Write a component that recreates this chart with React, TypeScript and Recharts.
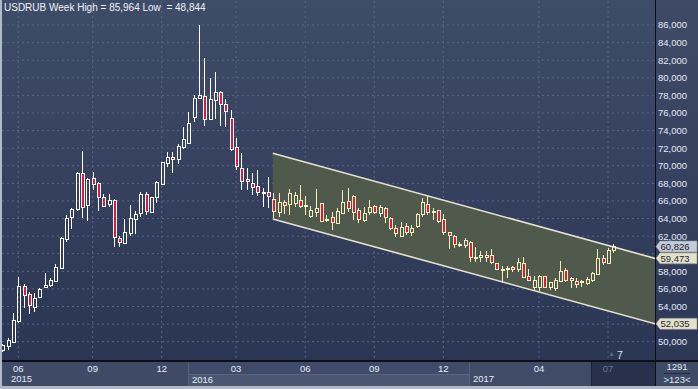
import { ComposedChart, Bar, Area, XAxis, YAxis, CartesianGrid, ReferenceLine } from 'recharts'

// weekly USDRUB candles, May 2015 .. Jul 2017
const OPEN = [
  49.0, 49.46, 50.02, 52.37, 56.35, 55.44, 54.0, 55.06, 56.27, 56.46,
  56.92, 58.43, 61.73, 64.15, 65.06, 69.15, 65.51, 68.58, 68.01, 66.5,
  65.63, 66.12, 61.76, 61.27, 62.41, 64.0, 64.6, 66.76, 64.79, 66.42,
  67.9, 70.36, 71.0, 70.74, 72.18, 72.63, 75.51, 77.74, 77.93, 75.36,
  77.48, 78.39, 76.99, 75.4, 72.1, 69.72, 68.47, 68.01, 67.71, 67.07,
  67.07, 66.27, 64.79, 65.85, 65.67, 65.74, 66.08, 65.48, 64.3, 64.79,
  65.74, 63.92, 64.15, 63.54, 64.6, 66.01, 66.57, 64.98, 63.85, 64.79,
  65.44, 64.6, 65.17, 64.04, 62.9, 62.07, 63.17, 62.52, 63.17, 64.53,
  65.63, 64.87, 64.98, 63.92, 62.45, 62.03, 61.12, 61.01, 61.39, 59.61,
  59.61, 59.87, 59.87, 58.92, 58.28, 58.4, 58.47, 58.24, 59.0, 57.49,
  56.27, 56.27, 57.49, 56.27, 56.08, 56.92, 58.17, 57.22, 56.88, 56.92,
  56.65, 56.96, 57.68, 59.49, 58.92, 60.44,
]
const HIGH = [
  49.7, 50.44, 53.28, 57.41, 56.57, 55.63, 55.52, 56.05, 57.79, 57.22,
  58.81, 61.95, 64.42, 65.17, 69.34, 71.69, 68.66, 69.34, 68.2, 66.8,
  66.8, 66.23, 62.03, 63.92, 65.55, 64.87, 67.03, 67.03, 66.5, 68.32,
  70.47, 71.57, 71.53, 72.48, 74.37, 76.08, 78.05, 85.964, 82.29, 79.94,
  80.7, 78.54, 77.55, 76.34, 73.12, 71.42, 69.72, 69.22, 69.53, 67.44,
  68.77, 66.88, 66.88, 66.12, 67.33, 67.0, 67.82, 66.57, 65.44, 67.33,
  65.82, 64.42, 64.79, 65.17, 67.26, 67.44, 66.69, 65.17, 65.36, 66.12,
  65.55, 65.55, 65.36, 64.15, 63.28, 63.66, 63.47, 63.28, 64.6, 66.31,
  66.57, 65.17, 65.0, 64.53, 62.52, 62.14, 61.39, 61.77, 61.45, 60.74,
  60.33, 60.36, 60.52, 58.95, 58.62, 58.62, 58.62, 59.49, 59.68, 58.24,
  57.49, 57.55, 57.52, 56.84, 57.22, 59.23, 58.36, 57.33, 57.22, 57.03,
  57.33, 57.98, 60.52, 59.87, 60.63, 61.12,
]
const LOW = [
  48.844, 49.0, 49.87, 52.11, 53.81, 53.13, 53.43, 55.02, 56.2, 56.27,
  56.77, 58.28, 61.39, 62.79, 64.91, 64.04, 63.77, 67.26, 64.91, 65.36,
  65.36, 60.82, 60.74, 61.2, 62.07, 62.26, 64.15, 64.42, 64.72, 65.82,
  67.82, 69.83, 69.22, 70.21, 71.87, 72.5, 75.02, 77.67, 74.53, 75.21,
  75.28, 74.53, 74.45, 71.72, 69.53, 67.25, 67.25, 66.69, 66.61, 65.36,
  65.17, 64.04, 64.23, 64.53, 64.42, 65.36, 65.17, 64.42, 64.04, 64.23,
  63.66, 63.66, 62.71, 63.47, 64.53, 64.79, 63.85, 63.54, 63.66, 64.42,
  64.53, 64.23, 63.47, 62.71, 61.95, 61.88, 62.14, 62.03, 62.9, 64.23,
  64.42, 63.85, 63.47, 62.14, 60.52, 60.63, 60.82, 60.63, 59.11, 59.11,
  59.11, 59.11, 58.85, 58.17, 56.65, 57.22, 57.98, 57.98, 57.33, 56.96,
  55.89, 55.82, 56.08, 55.89, 55.71, 56.84, 56.84, 56.08, 56.16, 56.27,
  56.46, 56.84, 57.6, 58.74, 58.85, 60.06,
]
const CLOSE = [
  49.65, 50.14, 52.49, 56.35, 55.33, 54.12, 54.95, 55.97, 56.46, 56.99,
  58.47, 61.76, 64.04, 65.06, 69.15, 65.29, 68.47, 67.9, 66.5, 65.48,
  66.08, 61.88, 61.31, 62.45, 64.04, 64.49, 66.76, 64.83, 66.42, 68.13,
  70.4, 70.97, 70.74, 72.25, 73.05, 74.83, 77.67, 78.01, 75.36, 77.59,
  78.39, 76.99, 76.27, 71.87, 70.02, 68.31, 68.24, 67.63, 67.07, 67.05,
  66.57, 64.87, 65.93, 65.55, 66.88, 66.69, 65.44, 65.5, 64.98, 65.17,
  63.77, 63.9, 63.66, 64.91, 65.93, 65.25, 64.79, 63.92, 64.68, 65.29,
  64.79, 65.36, 64.15, 62.9, 62.33, 63.01, 62.45, 62.9, 64.53, 65.93,
  64.79, 64.85, 63.77, 62.45, 62.14, 61.08, 61.14, 61.58, 59.68, 59.6,
  59.87, 59.61, 59.04, 58.28, 58.3, 58.43, 58.24, 59.11, 57.41, 57.03,
  57.03, 57.49, 56.27, 56.73, 57.03, 58.09, 57.03, 57.03, 56.54, 56.73,
  57.18, 57.86, 59.49, 59.04, 60.44, 60.826,
]

const MONTH_TICKS = [3, 17, 30, 44, 57, 70, 83, 101, 114]
const MONTH_LABELS = ['06', '09', '12', '03', '06', '09', '12', '04', '07']
const PRICE_TICKS = [50, 52, 54, 56, 58, 60, 62, 64, 66, 68, 70, 72, 74, 76, 78, 80, 82, 84, 86]

const X_DOMAIN = [-0.06, 122.84]
const Y_DOMAIN = [47.92, 88.73]

// regression channel drawn over the last part
const CHANNEL_X = [50.9, 122.84]
const CHANNEL_TOP = [71.425, 59.473]
const CHANNEL_BOT = [63.96, 52.035]
const CHANNEL_FROM = 51
const LAST_CLOSE = 60.826
const TAGS = [LAST_CLOSE, CHANNEL_TOP[1], CHANNEL_BOT[1]]

const candles = OPEN.map((o, i) => ({
  i,
  open: o,
  high: HIGH[i],
  low: LOW[i],
  close: CLOSE[i],
  range: [LOW[i], HIGH[i]],
}))

const channel = CHANNEL_X.map((x, k) => ({ i: x, band: [CHANNEL_BOT[k], CHANNEL_TOP[k]] }))

const fmt = (v: number) => v.toFixed(3).replace('.', ',')
const FONT = '"Liberation Sans", Arial, sans-serif'
const TXT = '#e4ebf7'

function Candle(props: any) {
  const { x, y, width, height, payload } = props
  if (x == null || !payload) return null
  const { open, close, high, low, i } = payload
  const span = high - low || 1
  const py = (v: number) => y + ((high - v) / span) * height
  const c = Math.round(x + width / 2)
  const color = i >= CHANNEL_FROM ? '#f5efbd' : '#ffffff'
  const yH = Math.round(py(high))
  const yL = Math.round(py(low))
  const yT = Math.round(py(Math.max(open, close)))
  let yB = Math.round(py(Math.min(open, close)))
  if (yB - yT < 1) yB = yT + 1
  const down = close < open
  return (
    <g>
      <line x1={c + 0.5} x2={c + 0.5} y1={yH} y2={yT} stroke={color} />
      <line x1={c + 0.5} x2={c + 0.5} y1={yB} y2={yL} stroke={color} />
      <rect
        x={c - 0.5}
        y={yT + 0.5}
        width={3}
        height={yB - yT}
        fill={down ? '#e0193a' : 'none'}
        stroke={color}
      />
    </g>
  )
}

function MonthTick({ x, y, payload }: any) {
  const k = MONTH_TICKS.indexOf(payload.value)
  return (
    <text x={x} y={y + 12} textAnchor="middle" fontSize={9.5} fontFamily={FONT}
      fill={k === MONTH_TICKS.length - 1 ? '#69748f' : TXT}>
      {MONTH_LABELS[k]}
    </text>
  )
}

// price labels hidden under the value tags
function PriceTick({ x, y, payload }: any) {
  if (TAGS.some((t) => Math.abs(t - payload.value) < 0.9)) return null
  return (
    <text x={x} y={y + 3.4} textAnchor="start" fontSize={9.5} fontFamily={FONT} fill={TXT}>
      {fmt(payload.value)}
    </text>
  )
}

function PriceTag({ viewBox, v, bg }: any) {
  if (!viewBox) return null
  const x0 = viewBox.x + viewBox.width + 1
  const yc = viewBox.y
  return (
    <g>
      <polygon
        points={`${x0},${yc} ${x0 + 4},${yc - 5.5} ${x0 + 41},${yc - 5.5} ${x0 + 41},${yc + 5.5} ${x0 + 4},${yc + 5.5}`}
        fill={bg}
        stroke="#8a90a0"
        strokeWidth={0.6}
      />
      <text x={x0 + 4.5} y={yc + 3.4} fontSize={9.5} fontFamily={FONT} fill="#1b2233">
        {fmt(v)}
      </text>
    </g>
  )
}

// grid only on the axis ticks, nothing on the plot edges
const vGrid = ({ offset }: any) =>
  MONTH_TICKS.map((t) => offset.left + ((t - X_DOMAIN[0]) / (X_DOMAIN[1] - X_DOMAIN[0])) * offset.width)
const hGrid = ({ offset }: any) =>
  PRICE_TICKS.map((t) => offset.top + ((Y_DOMAIN[1] - t) / (Y_DOMAIN[1] - Y_DOMAIN[0])) * offset.height)

const abs = (left: number, top: number, width: number, height: number, extra: any = {}) => ({
  position: 'absolute' as const, left, top, width, height, ...extra,
})

export default function App() {
  return (
    <div style={abs(0, 0, 698, 389, { background: '#3e4a66', overflow: 'hidden', fontFamily: FONT })}>
      {/* plot + axis backgrounds */}
      <div style={abs(2, 0, 653, 360, { background: 'linear-gradient(#3f4c68, #2b3554)' })} />
      <div style={abs(656, 0, 42, 360, { background: 'linear-gradient(#3e4a66, #2d3857)' })} />
      {/* bottom time panel */}
      <div style={abs(2, 362, 186, 24, { background: '#3e4a66' })} />
      <div style={abs(188, 362, 281, 24, { background: '#3f4b68', borderLeft: '1px solid #56617c', boxSizing: 'border-box' })} />
      <div style={abs(189, 374, 280, 12, { background: '#4b5673', borderTop: '1px solid #5a6580', boxSizing: 'border-box' })} />
      <div style={abs(469, 362, 122, 24, { background: '#3f4b67', borderLeft: '1px solid #56617c', boxSizing: 'border-box' })} />
      <div style={abs(591, 362, 64, 24, { background: '#27314c', borderLeft: '1px solid #1b2236', boxSizing: 'border-box' })} />
      <div style={abs(656, 362, 42, 24, { background: '#3e4a66' })} />
      {/* frame lines */}
      <div style={abs(655, 0, 1, 389, { background: '#0b0f18' })} />
      <div style={abs(0, 360, 698, 2, { background: '#0b0f18' })} />
      <div style={abs(0, 0, 2, 389, { background: '#b0b9c9' })} />
      <div style={abs(0, 386, 698, 3, { background: '#b0b9c9' })} />

      <div style={abs(0, 0, 698, 389)}>
        <ComposedChart width={698} height={389} data={candles} margin={{ top: 1, right: 0, bottom: 1, left: 2 }}>
          <CartesianGrid
            stroke="#5a6682"
            strokeDasharray="2 3"
            verticalCoordinatesGenerator={vGrid}
            horizontalCoordinatesGenerator={hGrid}
          />
          <XAxis
            type="number"
            dataKey="i"
            domain={X_DOMAIN}
            allowDataOverflow
            ticks={MONTH_TICKS}
            interval={0}
            tick={<MonthTick />}
            tickLine={false}
            axisLine={false}
            tickSize={0}
            tickMargin={0}
            height={28}
          />
          <YAxis
            orientation="right"
            domain={Y_DOMAIN}
            allowDataOverflow
            ticks={PRICE_TICKS}
            interval={0}
            tick={<PriceTick />}
            tickLine={false}
            axisLine={false}
            tickSize={0}
            tickMargin={3}
            width={43}
          />
          <Area
            data={channel}
            dataKey="band"
            type="linear"
            fill="#4f5a4c"
            fillOpacity={1}
            stroke="#e6e2cf"
            strokeWidth={1.6}
            isAnimationActive={false}
          />
          <Bar dataKey="range" barSize={5} shape={<Candle />} isAnimationActive={false} />
          <ReferenceLine y={LAST_CLOSE} strokeOpacity={0} ifOverflow="visible"
            label={(p: any) => <PriceTag viewBox={p.viewBox} v={LAST_CLOSE} bg="#c6cbd6" />} />
          <ReferenceLine y={CHANNEL_TOP[1]} strokeOpacity={0} ifOverflow="visible"
            label={(p: any) => <PriceTag viewBox={p.viewBox} v={CHANNEL_TOP[1]} bg="#e4e2c6" />} />
          <ReferenceLine y={CHANNEL_BOT[1]} strokeOpacity={0} ifOverflow="visible"
            label={(p: any) => <PriceTag viewBox={p.viewBox} v={CHANNEL_BOT[1]} bg="#e4e2c6" />} />
        </ComposedChart>
      </div>

      {/* overlay texts */}
      <div style={abs(4, 1, 400, 14, { fontSize: 10, lineHeight: '14px', color: '#eef2f8', whiteSpace: 'nowrap' })}>
        USDRUB Week High = 85,964 Low&nbsp; = 48,844
      </div>
      <div style={abs(11, 373, 40, 12, { fontSize: 9.5, lineHeight: '12px', color: TXT })}>2015</div>
      <div style={abs(192, 374, 40, 12, { fontSize: 9.5, lineHeight: '12px', color: TXT })}>2016</div>
      <div style={abs(473, 373, 40, 12, { fontSize: 9.5, lineHeight: '12px', color: TXT })}>2017</div>
      <div style={abs(608, 350, 10, 8, { fontSize: 7, lineHeight: '8px', color: '#5d6884' })}>▲</div>
      <div style={abs(617, 349, 10, 13, { fontSize: 10.5, lineHeight: '13px', color: '#cfeaff' })}>7</div>
      <div style={abs(656, 361, 42, 12, { fontSize: 9.5, lineHeight: '12px', color: TXT, textAlign: 'center' })}>1291</div>
      <div style={abs(664, 373, 26, 1, { background: '#1f283c' })} />
      <div style={abs(656, 374, 42, 12, { fontSize: 9.5, lineHeight: '12px', color: TXT, textAlign: 'center' })}>&gt;123&lt;</div>
    </div>
  )
}
